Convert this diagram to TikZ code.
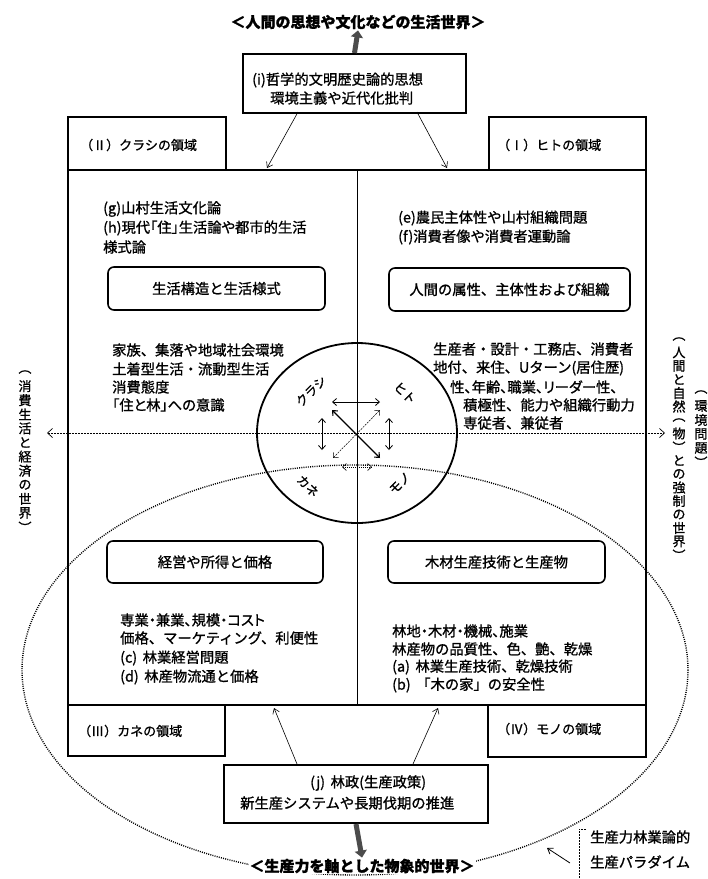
\documentclass[tikz,border=0pt]{standalone}
\usepackage{fontspec}
\setmainfont{Noto Sans CJK JP}[FakeBold=1.1]
\newfontfamily\pf{Noto Sans CJK JP}[RawFeature=+palt, FakeBold=1.1]
\usetikzlibrary{arrows.meta}
\begin{document}
\begin{tikzpicture}[x=1pt,y=-1pt,
  t/.style={font=\fontsize{14.3}{17}\selectfont, anchor=west, inner sep=0pt},
  tp/.style={font=\fontsize{14.3}{17}\selectfont\pf, anchor=west, inner sep=0pt},
  ttl/.style={font=\fontsize{15}{17}\selectfont\bfseries, inner sep=1pt},
  tabt/.style={font=\fontsize{13}{15}\selectfont, anchor=west, inner sep=0pt},
  sm/.style={font=\fontsize{12.5}{14}\selectfont, inner sep=0pt},
  vch/.style={font=\fontsize{13}{14}\selectfont, inner sep=0pt},
  frm/.style={draw, line width=1.8pt, inner sep=0pt, anchor=north west},
  rb/.style={draw, line width=1.6pt, rounded corners=6pt, inner sep=0pt, font=\fontsize{14.3}{17}\selectfont},
  arr/.style={line width=0.6pt, -{Straight Barb[length=5pt,width=7pt]}},
  dbl/.style={line width=0.8pt, {Straight Barb[length=4pt,width=7pt]}-{Straight Barb[length=4pt,width=7pt]}},
  blk/.style={line width=5pt, draw=black!70, -{Triangle[length=7pt,width=12pt]}}
]
\useasboundingbox (0,0) rectangle (708,879);
\fill[white] (0,0) rectangle (708,879);

% big dotted ellipse
\draw[line width=1.4pt, dash pattern=on 1pt off 1.2pt] (355,670) ellipse [x radius=333, y radius=205];

% main frame and tabs
\node[frm, minimum width=578, minimum height=535] (sq) at (67,169) {};
\node[frm, minimum width=158, minimum height=53] (tII) at (67,116) {};
\node[frm, minimum width=157, minimum height=53] (tI) at (488,116) {};
\node[frm, minimum width=157, minimum height=51] (tIII) at (67,704) {};
\node[frm, minimum width=158, minimum height=52] (tIV) at (487,704) {};
\node[tabt] (lII) at (80,145) {（Ⅱ）クラシの領域};
\node[tabt] (lI) at (497,145) {（Ⅰ）ヒトの領域};
\node[tabt] (lIII) at (78,731) {（Ⅲ）カネの領域};
\node[tabt] (lIV) at (497,729) {（Ⅳ）モノの領域};

% vertical divider
\coordinate (vtop) at (357,169);
\coordinate (vbot) at (357,704);
\draw[line width=0.9pt] (vtop) -- (vbot);

% horizontal dashed axis
\coordinate (hl) at (47,433);
\coordinate (hr) at (665,433);
\draw[line width=0.7pt, dash pattern=on 2pt off 1pt, {Straight Barb[length=5pt,width=9pt]}-{Straight Barb[length=5pt,width=9pt]}] (hl) -- (hr);

% central circle
\draw[line width=1.8pt] (357,433) ellipse [x radius=100, y radius=90];
\node[sm, rotate=45] (kurashi) at (311,391) {クラシ};
\node[sm, rotate=-45] (hito) at (405,393) {ヒト};
\node[sm, rotate=-45] (kane) at (308,486) {カネ};
\node[sm, rotate=45] (mono) at (400,483) {モノ};
\coordinate (c1) at (332,402); \coordinate (c2) at (380,402);
\coordinate (c3) at (332,410); \coordinate (c4) at (380,458);
\coordinate (c5) at (333,458); \coordinate (c6) at (380,410);
\coordinate (c7) at (322,418); \coordinate (c8) at (322,450);
\coordinate (c9) at (389,418); \coordinate (c10) at (389,450);
\coordinate (c11) at (342,467); \coordinate (c12) at (372,467);
\draw[dbl] (c1) -- (c2);
\draw[dbl, line width=1.1pt] (c3) -- (c4);
\draw[dbl, line width=0.5pt, dash pattern=on 2pt off 1pt] (c5) -- (c6);
\draw[dbl] (c7) -- (c8);
\draw[dbl] (c9) -- (c10);
\draw[dbl, line width=0.6pt, dash pattern=on 1pt off 1pt] (c11) -- (c12);

% top
\node[ttl] (toptitle) at (358,22) {＜人間の思想や文化などの生活世界＞};
\node[frm, line width=2pt, minimum width=223, minimum height=59] (bi) at (242,53) {};
\node[t] (bi1) at (252,80) {(i)哲学的文明歴史論的思想};
\node[t] (bi2) at (270,98) {環境主義や近代化批判};
\draw[blk] (bi.north) -- (toptitle.south);
\coordinate (ia) at (298,112); \coordinate (qa) at (267,168);
\coordinate (ib) at (417,112); \coordinate (qb) at (447,168);
\draw[arr] (ia) -- (qa);
\draw[arr] (ib) -- (qb);

% top-left quadrant
\node[t] (g) at (103,209) {(g)山村生活文化論};
\node[tp] (h1) at (103,228) {(h)現代「住」生活論や都市的生活};
\node[t] (h2) at (103,247) {様式論};
\node[rb, minimum width=217, minimum height=43] (rTL) at (216.5,288.5) {生活構造と生活様式};
\node[t] (a1) at (112,350) {家族、集落や地域社会環境};
\node[t] (a2) at (112,369) {土着型生活・流動型生活};
\node[t] (a3) at (112,387) {消費態度};
\node[tp] (a4) at (112,405) {「住と林」への意識};

% top-right quadrant
\node[t] (e) at (398,218) {(e)農民主体性や山村組織問題};
\node[t] (f) at (398,237) {(f)消費者像や消費者運動論};
\node[rb, minimum width=241, minimum height=43] (rTR) at (509.5,289.5) {人間の属性、主体性および組織};
\node[t] (b1) at (433,349) {生産者・設計・工務店、消費者};
\node[t] (b2) at (433,368) {地付、来住、Uターン(居住歴)};
\node[tp] (b3) at (450,387) {性、年齢、職業、リーダー性、};
\node[t] (b4) at (463,405) {積極性、能力や組織行動力};
\node[t] (b5) at (463,423) {専従者、兼従者};

% bottom-left quadrant
\node[rb, minimum width=216, minimum height=42] (rBL) at (215,562) {経営や所得と価格};
\node[tp] (d1) at (120,620) {専業・兼業、規模・コスト};
\node[t] (d2) at (120,638) {価格、マーケティング、利便性};
\node[t] (d3) at (120,658) {(c)\, 林業経営問題};
\node[t] (d4) at (120,677) {(d)\, 林産物流通と価格};

% bottom-right quadrant
\node[rb, minimum width=217, minimum height=42] (rBR) at (496.5,562) {木材生産技術と生産物};
\node[tp] (m1) at (392,631) {林地・木材・機械、施業};
\node[t] (m2) at (392,649) {林産物の品質性、色、艶、乾燥};
\node[t] (m3) at (392,667) {(a)\, 林業生産技術、乾燥技術};
\node[t] (m4) at (392,685) {(b)\, 「木の家」の安全性};

% bottom
\node[frm, line width=2pt, minimum width=264, minimum height=58] (bj) at (223,764) {};
\node[t] (bj1) at (310,783) {(j)\, 林政(生産政策)};
\node[t] (bj2) at (240,803) {新生産システムや長期伐期の推進};
\node[ttl, fill=white] (bottitle) at (362,866) {＜生産力を軸とした物象的世界＞};
\draw[blk] (bj.south) -- (bottitle.north);
\coordinate (ja) at (297,764); \coordinate (pa) at (274,708);
\coordinate (jb) at (413,764); \coordinate (pb) at (438,708);
\draw[arr] (ja) -- (pa);
\draw[arr] (jb) -- (pb);

% side texts (vertical)
\foreach \c [count=\i] in {︵,消,費,生,活,と,経,済,の,世,界,︶}
  \node[vch] (L\i) at (25,{372+14.1*(\i-1)}) {\c};
\foreach \c [count=\i] in {︵,人,間,と,自,然,︵,物,︶,と,の,強,制,の,世,界,︶}
  \node[vch] (R\i) at (679,{339+13.5*(\i-1)}) {\c};
\foreach \c [count=\i] in {︵,環,境,問,題,︶}
  \node[vch] (S\i) at (701,{392+14*(\i-1)}) {\c};

% paradigm label
\node[t] (p1) at (590,837) {生産力林業論的};
\node[t] (p2) at (590,862) {生産パラダイム};
\coordinate (pt) at (570,863); \coordinate (ph) at (547,848);
\draw[arr, line width=0.8pt] (pt) -- (ph);
\coordinate (br1) at (586,829); \coordinate (br2) at (579,829); \coordinate (br3) at (579,879);
\draw[line width=0.7pt, dash pattern=on 2pt off 1pt] (br1) -- (br2) -- (br3);
\end{tikzpicture}
\end{document}
